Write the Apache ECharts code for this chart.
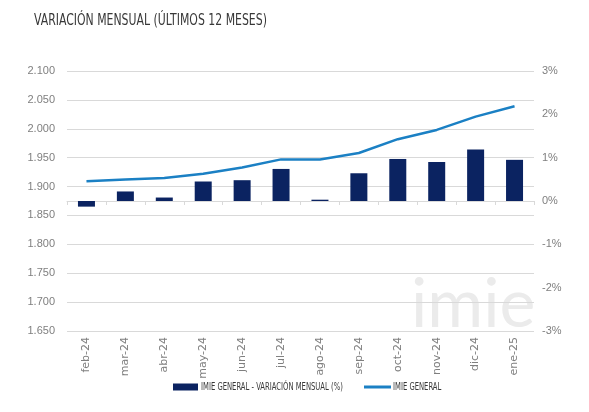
<!DOCTYPE html>
<html>
<head>
<meta charset="utf-8">
<script src="https://cdn.jsdelivr.net/npm/echarts@6/dist/echarts.min.js"></script>
<style>
  html, body { margin: 0; padding: 0; background: #fff; }
  #chart { width: 589px; height: 412px; }
</style>
</head>
<body>
<div id="chart"></div>
<script>
// meses
var months = ['feb-24', 'mar-24', 'abr-24', 'may-24', 'jun-24', 'jul-24',
              'ago-24', 'sep-24', 'oct-24', 'nov-24', 'dic-24', 'ene-25'];
// variación mensual (%)
var variacion = [-0.13, 0.22, 0.08, 0.45, 0.48, 0.74, 0.03, 0.64, 0.97, 0.90, 1.19, 0.95];
// índice general
var imieGeneral = [1909, 1912, 1915, 1922, 1933, 1947, 1947, 1958, 1982, 1998, 2021, 2039];

var barName = 'IMIE GENERAL - VARIACIÓN MENSUAL (%)';
var lineName = 'IMIE GENERAL';

var grey = '#7f7f7f';
var gridCol = '#d9d9d9';
var navy = '#0b2361';
var blue = '#1b80c4';
var narrow = '"DejaVu Sans Condensed", sans-serif';

// titulo y leyenda en condensada (escala horizontal)
var graphics = [{
    type: 'text',
    x: 34, y: 21, scaleX: 0.757,
    style: { text: 'VARIACIÓN MENSUAL (ÚLTIMOS 12 MESES)', font: '16px ' + narrow,
             fill: '#383838', verticalAlign: 'middle' }
}, {
    type: 'text', left: 411, top: 271, z: -1,
    style: { text: 'imie', font: '400 68px Lato', fill: '#ebebeb' }
}, {
    type: 'rect', shape: { x: 173, y: 383.5, width: 25, height: 7 },
    style: { fill: navy }
}, {
    type: 'text', x: 201, y: 387.5, scaleX: 0.69,
    style: { text: barName, font: '11px ' + narrow, fill: '#383838', verticalAlign: 'middle' }
}, {
    type: 'rect', shape: { x: 364, y: 385.5, width: 27, height: 3 },
    style: { fill: blue }
}, {
    type: 'text', x: 393, y: 387.5, scaleX: 0.69,
    style: { text: lineName, font: '11px ' + narrow, fill: '#383838', verticalAlign: 'middle' }
}];

var chart = echarts.init(document.getElementById('chart'));
chart.setOption({
    animation: false,
    graphic: graphics,
    grid: { left: 67, right: 55, top: 71, bottom: 81 },
    xAxis: {
        type: 'category',
        data: months,
        axisLine: { lineStyle: { color: gridCol } },
        axisTick: { show: true, length: 4, lineStyle: { color: gridCol } },
        axisLabel: {
            rotate: 90,
            color: grey,
            fontFamily: 'DejaVu Sans',
            fontSize: 11,
            margin: 6
        }
    },
    yAxis: [{
        type: 'value',
        min: 1650,
        max: 2100,
        interval: 50,
        axisLine: { show: false },
        axisTick: { show: false },
        splitLine: { lineStyle: { color: gridCol } },
        axisLabel: {
            color: grey,
            fontSize: 11,
            margin: 12,
            formatter: function (v) { return (v / 1000).toFixed(3); }
        }
    }, {
        type: 'value',
        min: -3,
        max: 3,
        interval: 1,
        axisLine: { show: false },
        axisTick: { show: false },
        splitLine: { show: false },
        axisLabel: {
            color: grey,
            fontSize: 11,
            margin: 8,
            formatter: '{value}%'
        }
    }],
    series: [{
        name: barName,
        type: 'bar',
        yAxisIndex: 1,
        barWidth: 17,
        itemStyle: { color: navy },
        data: variacion
    }, {
        name: lineName,
        type: 'line',
        yAxisIndex: 0,
        symbol: 'none',
        lineStyle: { color: blue, width: 2.5 },
        itemStyle: { color: blue },
        data: imieGeneral
    }]
});
</script>
</body>
</html>
